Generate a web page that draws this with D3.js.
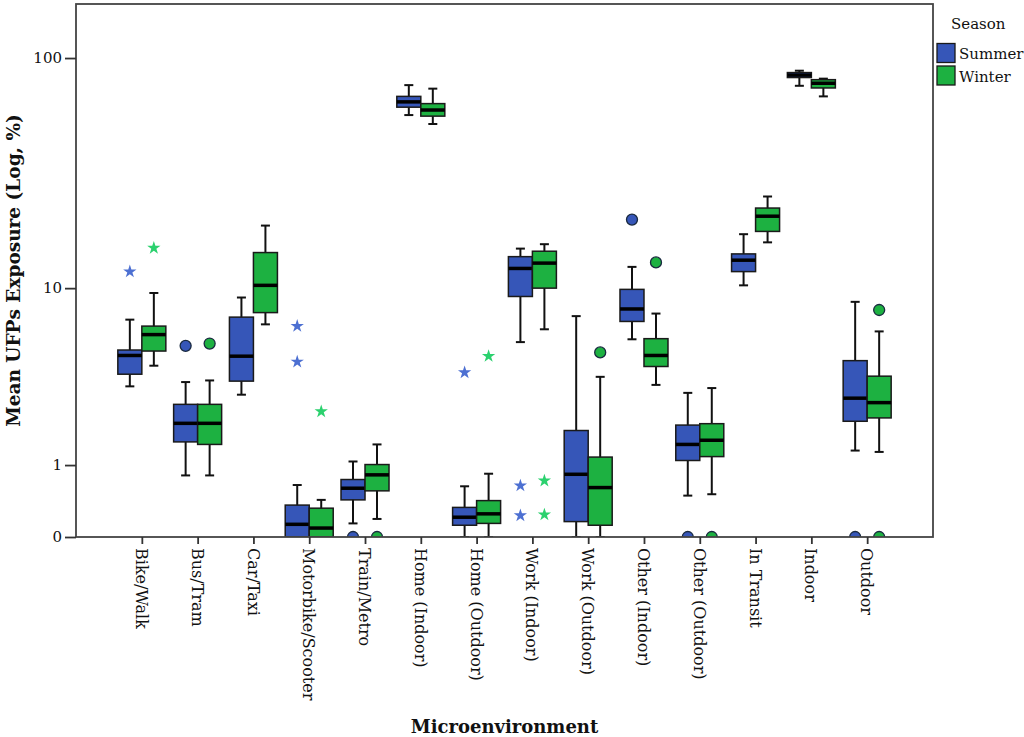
<html lang="en">
<head>
  <meta charset="UTF-8">
  <title>UFPs exposure by microenvironment</title>
  <script src="https://d3js.org/d3.v7.min.js"></script>
  <style>
    body { margin: 0; background: #fff; }
    svg text { font-family: "DejaVu Serif", serif; fill: #111; }
  </style>
</head>
<body>
<svg class="chart" width="1024" height="737"></svg>
<script>
// categories along the x axis
const categories = ["Bike/Walk", "Bus/Tram", "Car/Taxi", "Motorbike/Scooter", "Train/Metro",
  "Home (Indoor)", "Home (Outdoor)", "Work (Indoor)", "Work (Outdoor)", "Other (Indoor)",
  "Other (Outdoor)", "In Transit", "Indoor", "Outdoor"];
const seasons = ["Summer", "Winter"];

// [whisker low, q1, median, q3, whisker high]
const summerBoxes = [
  [3.27, 3.80, 4.75, 5.06, 7.12],
  [0.81, 1.50, 1.99, 2.59, 3.45],
  [2.94, 3.49, 4.71, 7.32, 9.05],
  [0, 0, 0.13, 0.36, 0.65],
  [0.14, 0.43, 0.60, 0.74, 1.07],
  [57.3, 61.9, 65.2, 68.8, 76.8],
  [0, 0.12, 0.21, 0.33, 0.63],
  [5.54, 9.15, 12.3, 13.9, 15.1],
  [0, 0.16, 0.83, 1.79, 7.40],
  [5.72, 6.98, 8.0, 9.87, 12.5],
  [0.49, 1.09, 1.44, 1.94, 3.01],
  [10.3, 11.9, 13.4, 14.3, 17.5],
  [76.3, 82.7, 84.7, 86.8, 88.4],
  [1.30, 2.05, 2.81, 4.47, 8.64]
];
const winterBoxes = [
  [4.21, 5.0, 6.03, 6.63, 9.50],
  [0.81, 1.44, 1.99, 2.59, 3.52],
  [6.76, 7.69, 10.3, 14.5, 19.1],
  [0, 0, 0.09, 0.32, 0.43],
  [0.19, 0.56, 0.82, 1.01, 1.44],
  [52.5, 56.7, 60.2, 64.1, 74.2],
  [0, 0.14, 0.25, 0.42, 0.84],
  [6.40, 10.0, 13.0, 14.7, 15.8],
  [0, 0.12, 0.61, 1.16, 3.68],
  [3.33, 4.17, 4.75, 5.76, 7.61],
  [0.51, 1.17, 1.54, 1.98, 3.20],
  [16.1, 18.0, 21.0, 22.8, 25.6],
  [68.8, 74.7, 78.2, 81.0, 81.8],
  [1.27, 2.15, 2.65, 3.71, 6.25]
];

// outliers: [category, season, value, kind]  (circle = outlier, star = extreme)
const outliers = [
  ["Bike/Walk", "Summer", 11.9, "star"],
  ["Bike/Walk", "Winter", 15.2, "star"],
  ["Bus/Tram", "Summer", 5.31, "circle"],
  ["Bus/Tram", "Winter", 5.45, "circle"],
  ["Motorbike/Scooter", "Summer", 6.63, "star"],
  ["Motorbike/Scooter", "Summer", 4.41, "star"],
  ["Motorbike/Scooter", "Winter", 2.35, "star"],
  ["Train/Metro", "Summer", 0, "circle"],
  ["Train/Metro", "Winter", 0, "circle"],
  ["Home (Outdoor)", "Summer", 3.88, "star"],
  ["Home (Outdoor)", "Winter", 4.71, "star"],
  ["Work (Indoor)", "Summer", 0.64, "star"],
  ["Work (Indoor)", "Summer", 0.23, "star"],
  ["Work (Indoor)", "Winter", 0.72, "star"],
  ["Work (Indoor)", "Winter", 0.24, "star"],
  ["Work (Outdoor)", "Winter", 4.92, "circle"],
  ["Other (Indoor)", "Summer", 20.3, "circle"],
  ["Other (Indoor)", "Winter", 13.1, "circle"],
  ["Other (Outdoor)", "Summer", 0, "circle"],
  ["Other (Outdoor)", "Winter", 0, "circle"],
  ["Outdoor", "Summer", 0, "circle"],
  ["Outdoor", "Winter", 7.91, "circle"],
  ["Outdoor", "Winter", 0, "circle"]
];

const yTicks = [0, 1, 10, 100];

const svg = d3.select("svg.chart");
const pLeft = 76, pRight = 933, pTop = 4, pBottom = 537;

const x = d3.scalePoint().domain(categories).range([pLeft, pRight]).padding(1.18);
// axis is log10(value + 1), which is symlog with constant 1
const y = d3.scaleSymlog().constant(1).domain([0, 169]).range([pBottom, pTop]);
const fill = d3.scaleOrdinal().domain(seasons).range(["#3656b8", "#1db141"]);
const starFill = d3.scaleOrdinal().domain(seasons).range(["#4d70d2", "#2bd16e"]);
const boxW = 24;
const offset = s => s === "Summer" ? -boxW / 2 : boxW / 2;

svg.append("defs").append("clipPath").attr("id", "plotclip")
  .append("rect").attr("x", pLeft).attr("y", pTop).attr("width", pRight - pLeft).attr("height", pBottom - pTop);

const plot = svg.append("g").attr("clip-path", "url(#plotclip)");

const boxes = [];
categories.forEach((c, i) => {
  boxes.push({ cat: c, season: "Summer", v: summerBoxes[i] });
  boxes.push({ cat: c, season: "Winter", v: winterBoxes[i] });
});

boxes.forEach(b => {
  const cx = x(b.cat) + offset(b.season);
  const [lo, q1, med, q3, hi] = b.v;
  const g = plot.append("g");
  g.append("line").attr("x1", cx).attr("x2", cx).attr("y1", y(hi)).attr("y2", y(lo))
    .attr("stroke", "#111").attr("stroke-width", 2);
  [lo, hi].forEach(w => {
    g.append("line").attr("x1", cx - 4.5).attr("x2", cx + 4.5).attr("y1", y(w)).attr("y2", y(w))
      .attr("stroke", "#111").attr("stroke-width", 2);
  });
  g.append("rect").attr("x", cx - boxW / 2).attr("width", boxW)
    .attr("y", y(q3)).attr("height", Math.max(1, y(q1) - y(q3)))
    .attr("fill", fill(b.season)).attr("stroke", "#1a1a1a").attr("stroke-width", 1.5);
  g.append("line").attr("x1", cx - boxW / 2).attr("x2", cx + boxW / 2).attr("y1", y(med)).attr("y2", y(med))
    .attr("stroke", "#000").attr("stroke-width", 3.5);
});

outliers.forEach(([c, s, v, kind]) => {
  const cx = x(c) + offset(s);
  if (kind === "circle") {
    plot.append("circle").attr("cx", cx).attr("cy", y(v)).attr("r", 5.5)
      .attr("fill", fill(s)).attr("stroke", "#1a2a40").attr("stroke-width", 1.3);
  } else {
    plot.append("path").attr("d", d3.symbol(d3.symbolStar, 55)())
      .attr("transform", `translate(${cx},${y(v)})`)
      .attr("fill", starFill(s));
  }
});

// frame
svg.append("rect").attr("x", pLeft).attr("y", pTop).attr("width", pRight - pLeft).attr("height", pBottom - pTop)
  .attr("fill", "none").attr("stroke", "#444").attr("stroke-width", 1.8);

// y axis
const yAxis = svg.append("g").attr("transform", `translate(${pLeft},0)`)
  .call(d3.axisLeft(y).tickValues(yTicks).tickFormat(d3.format("d")).tickSize(11).tickPadding(3));
yAxis.select(".domain").remove();
yAxis.selectAll("line").attr("stroke", "#333").attr("stroke-width", 1.8);
yAxis.selectAll("text").style("font-size", "15px").style("font-family", "DejaVu Serif").attr("fill", "#111");

// x axis
const xAxis = svg.append("g").attr("transform", `translate(0,${pBottom})`)
  .call(d3.axisBottom(x).tickSize(7).tickPadding(4));
xAxis.select(".domain").remove();
xAxis.selectAll("line").attr("stroke", "#333").attr("stroke-width", 1.8);
xAxis.selectAll("text")
  .style("font-size", "16px").style("font-family", "DejaVu Serif").attr("fill", "#111")
  .attr("text-anchor", "start")
  .attr("transform", "rotate(90)")
  .attr("x", 11).attr("y", 0).attr("dy", "0.4em");

// axis titles
svg.append("text").attr("transform", `translate(20,${(pTop + pBottom) / 2}) rotate(-90)`)
  .attr("text-anchor", "middle").style("font-size", "18.5px").style("font-weight", "bold")
  .text("Mean UFPs Exposure (Log, %)");
svg.append("text").attr("x", (pLeft + pRight) / 2).attr("y", 733)
  .attr("text-anchor", "middle").style("font-size", "18px").style("font-weight", "bold")
  .text("Microenvironment");

// legend
const legend = svg.append("g");
legend.append("text").attr("x", 951).attr("y", 29).style("font-size", "15px").text("Season");
seasons.forEach((s, i) => {
  legend.append("rect").attr("x", 937).attr("y", 43.5 + i * 22.5).attr("width", 18).attr("height", 19)
    .attr("fill", fill(s)).attr("stroke", "#1a1a1a").attr("stroke-width", 1.3);
  legend.append("text").attr("x", 959).attr("y", 59 + i * 22.5).style("font-size", "15px").text(s);
});
</script>
</body>
</html>
